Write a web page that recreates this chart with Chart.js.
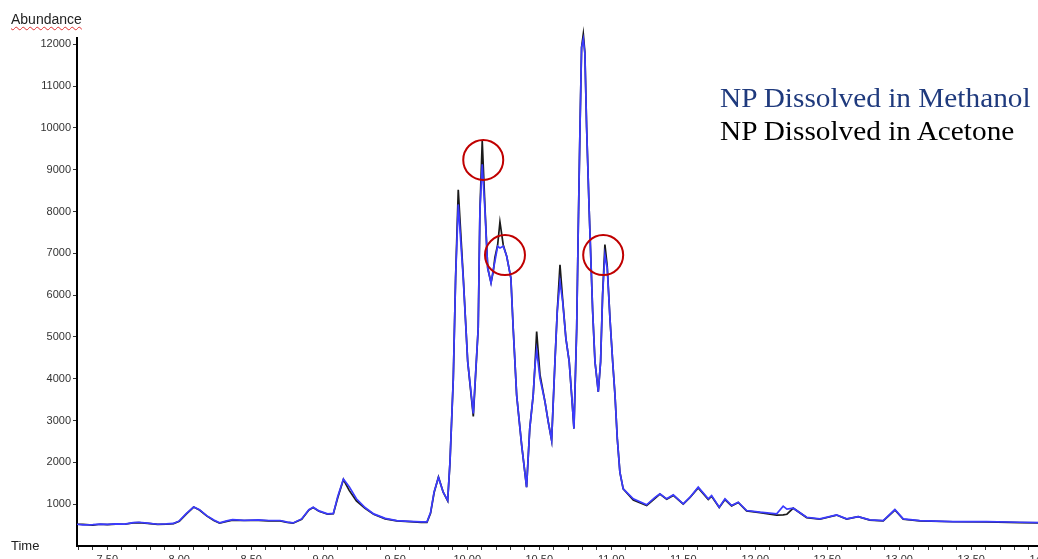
<!DOCTYPE html>
<html>
<head>
<meta charset="utf-8">
<script src="https://cdn.jsdelivr.net/npm/chart.js@4.4.1/dist/chart.umd.min.js"></script>
<style>
  body { margin: 0; background: #fff; overflow: hidden; width: 1038px; height: 559px; position: relative; }
  #wrap { position: absolute; left: 0; top: 0; width: 1080px; height: 580px; }
  .lbl { position: absolute; font-family: "Liberation Sans", Arial, sans-serif; color: #222; white-space: nowrap; }
  #yTitle { left: 11px; top: 12px; font-size: 14px; line-height: 14px;
            text-decoration: underline wavy #e03030; text-decoration-thickness: 1px; text-underline-offset: 2px; }
  #xTitle { left: 11px; top: 539px; font-size: 13px; line-height: 13px; }
  .legend { position: absolute; left: 720px; font-family: "Liberation Serif", "Times New Roman", serif;
            font-size: 27px; line-height: 33px; white-space: nowrap; transform: scaleX(1.085); transform-origin: left top; }
</style>
</head>
<body>
<div id="wrap"><canvas id="grafico" width="1080" height="580"></canvas></div>
<div class="lbl" id="yTitle">Abundance</div>
<div class="lbl" id="xTitle">Time</div>
<div class="legend" style="top:82px;color:#1f3a7d">NP Dissolved in Methanol</div>
<div class="legend" style="top:115px;color:#000">NP Dissolved in Acetone</div>

<script>
// retention time (min)
const tempos = [
  7.29, 7.33, 7.40, 7.45, 7.50, 7.56, 7.62, 7.68, 7.72, 7.78, 7.85, 7.91, 7.96,
  8.00, 8.05, 8.10, 8.14, 8.19, 8.24, 8.28, 8.33, 8.37, 8.45, 8.55, 8.62, 8.70, 8.75, 8.79,
  8.85, 8.90, 8.93, 8.97, 9.03, 9.07, 9.10, 9.14, 9.18, 9.23, 9.29, 9.35, 9.43, 9.51,
  9.60, 9.68, 9.72, 9.745, 9.77, 9.80, 9.833, 9.864, 9.880, 9.903, 9.919, 9.9375, 9.972,
  10.003, 10.042, 10.076, 10.088, 10.104, 10.123, 10.142, 10.165, 10.180, 10.192, 10.211,
  10.227, 10.250, 10.274, 10.303, 10.319, 10.343, 10.378, 10.412, 10.434, 10.458, 10.470,
  10.482, 10.505, 10.540, 10.5625, 10.586, 10.609, 10.625, 10.644, 10.6625, 10.685, 10.708,
  10.725, 10.741, 10.760, 10.771, 10.783, 10.794, 10.806, 10.817, 10.829, 10.847, 10.859,
  10.871, 10.887, 10.910, 10.926, 10.940, 10.956, 10.972, 10.991, 11.010, 11.026, 11.042,
  11.060, 11.083, 11.153, 11.246, 11.30, 11.338, 11.385, 11.431, 11.500, 11.547, 11.604,
  11.674, 11.697, 11.750, 11.790, 11.836, 11.882, 11.940, 12.033, 12.149, 12.194, 12.22,
  12.264, 12.357, 12.449, 12.565, 12.635, 12.715, 12.796, 12.889, 12.970, 13.028, 13.143,
  13.375, 13.607, 13.837, 13.976, 14.2
]

// abundance, NP dissolved in methanol (blue)
const metanol = [
  520, 505, 510, 525, 515, 530, 525, 560, 568, 545, 520, 528, 540,
  600, 780, 935, 870, 727, 620, 555, 600, 630, 615, 625, 610, 610, 570, 552,
  648, 870, 928, 840, 770, 780, 1180, 1600, 1420, 1130, 920, 768, 660, 605,
  590, 575, 575, 800, 1300, 1640, 1288, 1088, 2008, 4008, 6408, 8170, 6408,
  4416, 3168, 5208, 8016, 9130, 8016, 6648, 6288, 6600, 6808, 7168,
  7128, 7168, 6928, 6408, 5208, 3608, 2408, 1408, 2808, 3608, 4300,
  4688, 4008, 3448, 2968, 2528, 4408, 5608, 6328, 5848, 4968, 4408,
  3608, 2808, 5208, 7608, 10008, 11928, 12128, 11768, 10008, 8008, 6808,
  5608, 4408, 3688, 4408, 6008, 6968, 6648, 5448, 4408, 3608, 2568,
  1768, 1368, 1128, 984, 1150, 1248, 1128, 1224, 1008, 1168, 1408,
  1128, 1208, 928, 1128, 968, 1048, 848, 808, 768, 952, 880,
  904, 688, 648, 744, 648, 704, 624, 608, 872, 648, 608,
  584, 584, 568, 560, 560
]

// abundance, NP dissolved in acetone (black)
const acetona = [
  520, 515, 500, 520, 510, 525, 520, 555, 560, 540, 515, 520, 535,
  590, 770, 930, 860, 720, 610, 545, 590, 620, 610, 615, 600, 600, 565, 545,
  640, 860, 920, 830, 760, 770, 1150, 1590, 1330, 1080, 900, 760, 650, 600,
  585, 565, 565, 780, 1280, 1648, 1288, 1080, 2000, 4008, 6408, 8520, 6450,
  4416, 3100, 5208, 8016, 9690, 8100, 6648, 6300, 6550, 6900, 7200,
  7750, 7200, 6928, 6408, 5208, 3608, 2408, 1408, 2808, 3608, 4300,
  5128, 4100, 3448, 2968, 2528, 4408, 5608, 6728, 5900, 4968, 4408,
  3608, 2808, 5208, 7608, 10008, 11928, 12248, 11800, 10008, 8008, 6808,
  5608, 4408, 3688, 4408, 6008, 7208, 6700, 5448, 4408, 3608, 2568,
  1768, 1368, 1100, 970, 1130, 1240, 1120, 1210, 1000, 1160, 1390,
  1110, 1190, 920, 1110, 960, 1040, 840, 800, 740, 744, 760,
  904, 680, 640, 740, 645, 700, 620, 600, 860, 640, 600,
  580, 575, 560, 555, 555
]

// axis ticks
const yTicks = [1000, 2000, 3000, 4000, 5000, 6000, 7000, 8000, 9000, 10000, 11000, 12000]
const xLabels = ['7.50', '8.00', '8.50', '9.00', '9.50', '10.00', '10.50', '11.00', '11.50', '12.00', '12.50', '13.00', '13.50', '14.00']
const passoMenor = 0.1

// circled peaks (time, abundance)
const picosTempo = [10.111, 10.262, 10.944]
const picosValor = [9235, 6957, 6957]

const circulos = {
    id: 'circulos',
    afterDatasetsDraw(chart) {
        const c = chart.ctx
        c.save()
        c.strokeStyle = '#c00000'
        c.lineWidth = 2
        picosTempo.forEach((t, i) => {
            const px = chart.scales.x.getPixelForValue(t)
            const py = chart.scales.y.getPixelForValue(picosValor[i])
            c.beginPath()
            c.arc(px, py, 20, 0, Math.PI * 2)
            c.stroke()
        })
        c.restore()
    }
}

const fonteTicks = { family: '"Liberation Sans", Arial, sans-serif', size: 11 }
const ctx = document.getElementById('grafico')

const xMin = 7.2896
const xMax = 14.2

let grafico = new Chart(ctx, {
    type: 'line',
    data: {
        datasets: [
            {
                label: 'NP Dissolved in Methanol',
                data: tempos.map((t, i) => ({ x: t, y: metanol[i] })),
                borderColor: '#3b3bff',
                borderWidth: 1.7,
                pointRadius: 0,
                tension: 0,
                clip: false
            },
            {
                label: 'NP Dissolved in Acetone',
                data: tempos.map((t, i) => ({ x: t, y: acetona[i] })),
                borderColor: '#1a1a1a',
                borderWidth: 1.7,
                pointRadius: 0,
                tension: 0,
                clip: false
            }
        ]
    },
    options: {
        responsive: false,
        animation: false,
        devicePixelRatio: 1,
        layout: { padding: { top: 38, left: 0, right: 8, bottom: 0 } },
        plugins: { legend: { display: false }, tooltip: { enabled: false } },
        events: [],
        scales: {
            x: {
                type: 'linear',
                min: xMin,
                max: xMax,
                afterFit: s => { s.height = 34 },
                afterBuildTicks: s => {
                    const lista = []
                    for (let k = Math.ceil(xMin / passoMenor); k * passoMenor <= 14.0 + 1e-9; k++) {
                        lista.push({ value: Math.round(k * passoMenor * 10) / 10 })
                    }
                    s.ticks = lista
                },
                border: { color: '#000', width: 2 },
                grid: { drawOnChartArea: false, tickLength: 4, tickColor: '#333' },
                ticks: {
                    autoSkip: false,
                    maxRotation: 0,
                    minRotation: 0,
                    padding: 3,
                    color: '#333',
                    font: fonteTicks,
                    callback: v => xLabels.find(l => Math.abs(parseFloat(l) - v) < 1e-6) || ''
                }
            },
            y: {
                min: 0,
                max: 12150,
                afterFit: s => { s.width = 77 },
                afterBuildTicks: s => { s.ticks = yTicks.map(v => ({ value: v })) },
                border: { color: '#000', width: 2 },
                grid: { drawOnChartArea: false, tickLength: 4, tickColor: '#333' },
                ticks: {
                    autoSkip: false,
                    padding: 2,
                    color: '#333',
                    font: fonteTicks,
                    callback: v => String(v)
                }
            }
        }
    },
    plugins: [circulos]
})
</script>
</body>
</html>
